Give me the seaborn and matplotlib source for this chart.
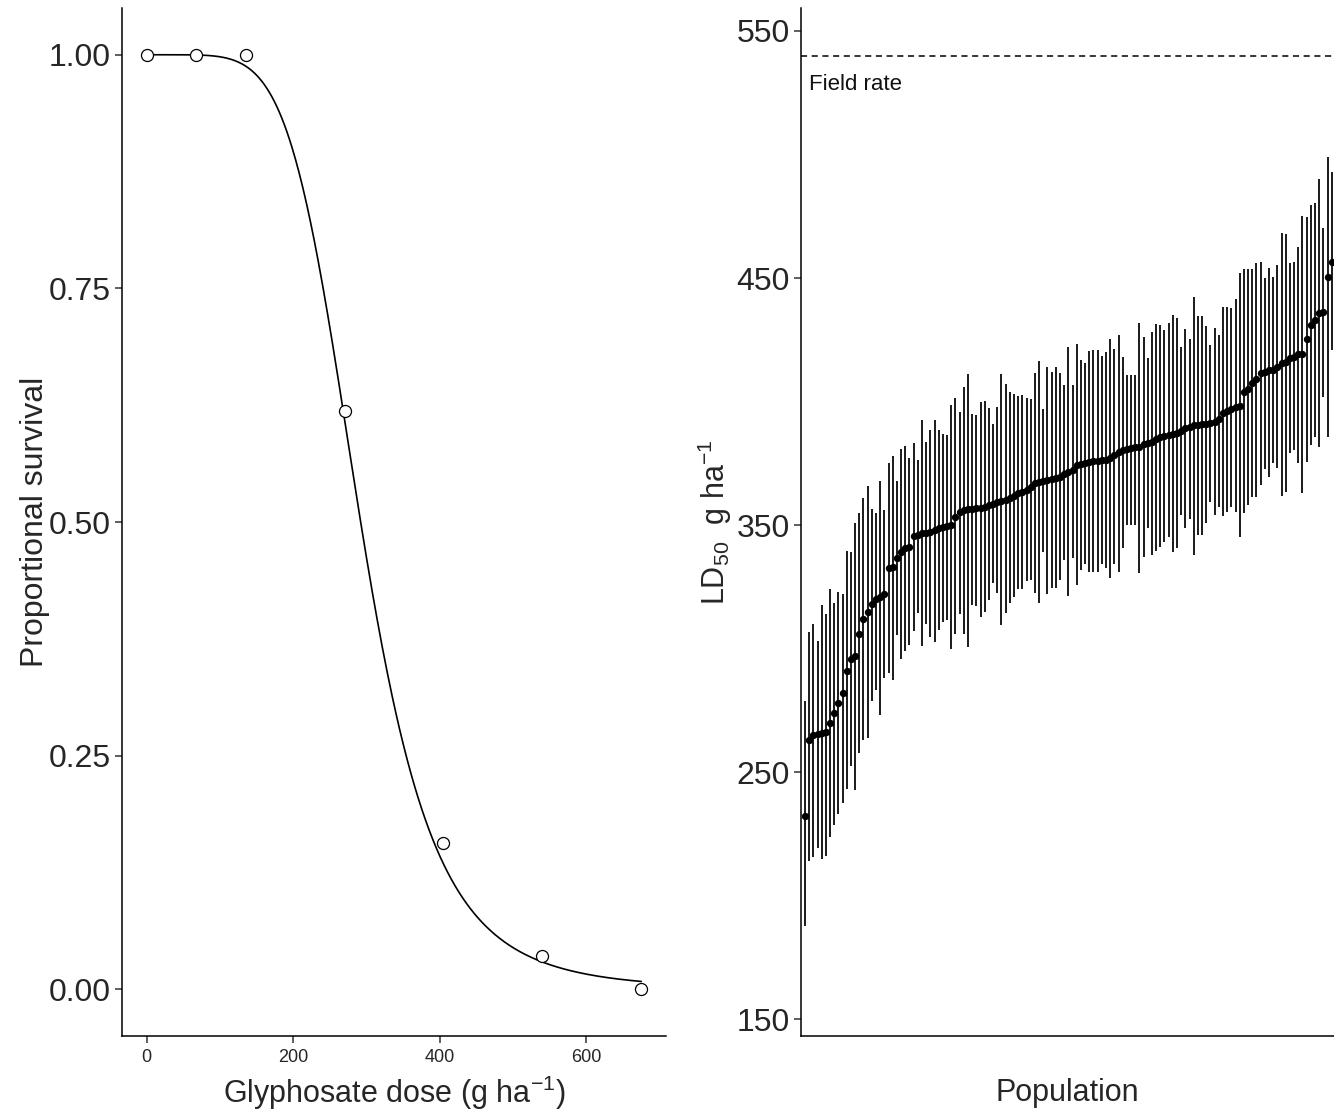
import numpy as np
import pandas as pd
import matplotlib
matplotlib.use("Agg")
import matplotlib.pyplot as plt
import seaborn as sns

# ---------------- data: left panel (dose-response) ----------------
dose = [0, 67.5, 135, 270, 405, 540, 675]
survival = [1.0, 1.0, 1.0, 0.619, 0.157, 0.036, 0.0]
# fitted log-logistic dose-response parameters
fit_slope = 5.7
fit_ed50 = 292.0

# ---------------- data: right panel (LD50 per population) ----------------
ld50 = [232.5, 263, 265, 265.4, 265.8, 266.4, 270, 274, 278, 282,
        291, 296, 297, 306, 312, 314.8, 318, 320, 321, 322,
        332.5, 333, 336.6, 339, 340.6, 341.3, 345.6, 346, 346.7, 347,
        347.4, 348, 348.7, 349.4, 349.7, 350, 353.5, 355.5, 356, 356.4,
        356.6, 356.8, 357, 357.2, 358.2, 358.6, 359.5, 360, 360.2, 361,
        361.8, 363, 363.6, 364.3, 365.3, 367, 367.6, 368, 368.3, 368.6,
        369, 369.6, 370.7, 371.7, 372.3, 374.3, 374.7, 375.3, 375.7, 376,
        376.1, 376.2, 376.4, 377, 378.4, 379.5, 380.4, 381, 381.3, 381.5,
        381.7, 382.8, 383.4, 383.8, 384.7, 385.8, 386.1, 386.5, 386.9, 387.4,
        388.2, 389.2, 389.9, 390.5, 390.6, 390.8, 391, 391.2, 391.9, 392.8,
        395.3, 396.3, 396.9, 397.7, 398.2, 404, 405, 407.4, 409, 411.4,
        412.1, 412.8, 413, 414.1, 415.5, 416.1, 417.5, 418.2, 419.1, 419.2,
        425.2, 431, 433, 435.7, 436.4, 450.5, 456.6]
ld50_upper = [279, 306.8, 310, 303, 317.6, 314, 324, 318.5, 323, 322,
              339.6, 339, 351, 355, 361, 366, 356.5, 355, 367.8, 356,
              375, 378, 368, 380.7, 382, 377, 383.4, 376.4, 392.6, 383.8,
              388.5, 392.6, 388.5, 387, 386.5, 398.6, 401.3, 396, 405.8, 411,
              395, 394.8, 400, 400.4, 397.3, 391, 398, 411, 407, 404,
              403, 402.4, 402.6, 401.3, 401, 411.5, 416.6, 397, 414, 412,
              414, 411.7, 406.7, 422, 406.7, 423.2, 416.8, 415.7, 420.6, 421.1,
              421.1, 418.4, 420.2, 425.3, 421.5, 427, 418.2, 410.7, 410.7, 410.7,
              431.7, 426, 417.5, 428.3, 431.5, 431, 429, 431.7, 435, 434,
              422.2, 429.6, 425.2, 442.2, 434.6, 434.6, 430.6, 422.9, 430, 427,
              438.4, 438.4, 437.7, 441.4, 452.2, 453.5, 453.5, 453.5, 456, 456.6,
              449.9, 453.9, 450.3, 455.3, 468.3, 468, 456.2, 456.6, 462.4, 475.1,
              474.8, 479.5, 480.2, 490, 470.1, 499.1, 493]
ld50_lower = [188, 214, 215.6, 219.4, 215, 216, 224, 228.5, 233, 237.5,
              243.2, 252.6, 242.8, 258, 263, 264, 279, 283.4, 273, 288,
              290, 287.4, 305.6, 296, 299, 301.5, 307, 314.3, 301, 310,
              304.9, 302.9, 307.6, 311, 311.6, 300, 306, 314, 306, 300.8,
              317.7, 317.5, 313, 315, 319.7, 326.5, 322.4, 309.6, 314.6, 318.4,
              321, 324, 324, 327.6, 327.8, 322.4, 318.4, 339, 322, 324.5,
              324.5, 328, 336, 321.3, 336.6, 326, 332, 334.5, 331.2, 331.2,
              331.2, 334.5, 332.5, 328.5, 334.3, 331.2, 340.6, 350, 350, 350,
              330.5, 337, 348.7, 338, 339.5, 341.3, 343.3, 345.3, 339.3, 340.6,
              354, 348.7, 352.4, 337.9, 346, 346, 350.7, 359.5, 354.1, 357.5,
              353.7, 355.5, 357.5, 355.5, 345.3, 354.8, 358.1, 361.5, 361.5, 366.2,
              372.6, 369.6, 375, 373, 361.8, 363.5, 379.3, 380.4, 375.3, 363.1,
              375.7, 382.4, 385.5, 381.7, 402, 385.8, 420.9]
field_rate = 540
field_rate_label = "Field rate"

# ---------------- style ----------------
sns.set_theme(style="ticks")
FONT = ["Liberation Sans", "DejaVu Sans"]
plt.rcParams["font.family"] = FONT
plt.rcParams["mathtext.fontset"] = "custom"
plt.rcParams["mathtext.rm"] = "Liberation Sans"
plt.rcParams["mathtext.it"] = "Liberation Sans:italic"
plt.rcParams["mathtext.bf"] = "Liberation Sans:bold"
plt.rcParams["axes.unicode_minus"] = True

fig = plt.figure(figsize=(13.34, 11.10), dpi=100)
W, H = 1334, 1110
ax1 = fig.add_axes([122 / W, 1 - 1036 / H, (666 - 122) / W, (1036 - 8) / H])
ax2 = fig.add_axes([801 / W, 1 - 1036 / H, (1334 - 801) / W, (1036 - 8) / H])

# ---------------- left panel ----------------
df_obs = pd.DataFrame({"dose": dose, "survival": survival})
grid = np.linspace(min(dose), max(dose), 400)
pred = 1.0 / (1.0 + (grid / fit_ed50) ** fit_slope)
df_fit = pd.DataFrame({"dose": grid, "survival": pred})

sns.lineplot(data=df_fit, x="dose", y="survival", ax=ax1, color="black",
             linewidth=1.2, zorder=2)
sns.scatterplot(data=df_obs, x="dose", y="survival", ax=ax1, s=75,
                facecolor="white", edgecolor="black", linewidth=0.9, zorder=3)

ax1.set_xlim(-33.75, 708.75)
ax1.set_ylim(-0.05, 1.05)
ax1.set_xticks([0, 200, 400, 600])
ax1.set_yticks([0, 0.25, 0.5, 0.75, 1.0])
ax1.set_yticklabels(["0.00", "0.25", "0.50", "0.75", "1.00"])
ax1.tick_params(axis="x", labelsize=13, length=5, width=1.1, color="#333333", pad=4)
ax1.tick_params(axis="y", labelsize=23, length=5, width=1.1, color="#333333", pad=3)
ax1.set_xlabel(r"Glyphosate dose (g ha$^{-1}$)", fontsize=22, labelpad=6)
ax1.set_ylabel("Proportional survival", fontsize=23, labelpad=-1)

# ---------------- right panel ----------------
pop = np.arange(len(ld50))
df_ld = pd.DataFrame({"population": pop, "ld50": ld50,
                      "lower": ld50_lower, "upper": ld50_upper})
ax2.vlines(df_ld["population"], df_ld["lower"], df_ld["upper"],
           color="#1a1a1a", linewidth=1.4, zorder=2)
sns.scatterplot(data=df_ld, x="population", y="ld50", ax=ax2, s=28,
                color="black", edgecolor="black", linewidth=0, zorder=3)
ax2.axhline(field_rate, color="black", linestyle=(0, (4, 3)), linewidth=1.1)
ax2.annotate(field_rate_label, xy=(0, field_rate), xycoords=("axes fraction", "data"),
             xytext=(6, -13), textcoords="offset points", ha="left", va="top",
             fontsize=16, color="#111111")

ax2.set_xlim(-0.95, len(ld50) - 0.45)
ax2.set_ylim(143.3, 559.3)
ax2.set_yticks([150, 250, 350, 450, 550])
ax2.set_xticks([])
ax2.tick_params(axis="y", labelsize=23, length=5, width=1.1, color="#333333", pad=3)
ax2.set_xlabel("Population", fontsize=22, labelpad=30)
ax2.set_ylabel(r"LD$_{50}$  g ha$^{-1}$", fontsize=22, labelpad=2)

for ax in (ax1, ax2):
    sns.despine(ax=ax)
    for s in ("left", "bottom"):
        ax.spines[s].set_linewidth(1.1)
        ax.spines[s].set_color("black")
    ax.set_facecolor("white")

fig.savefig("out.png", dpi=100, facecolor="white")
